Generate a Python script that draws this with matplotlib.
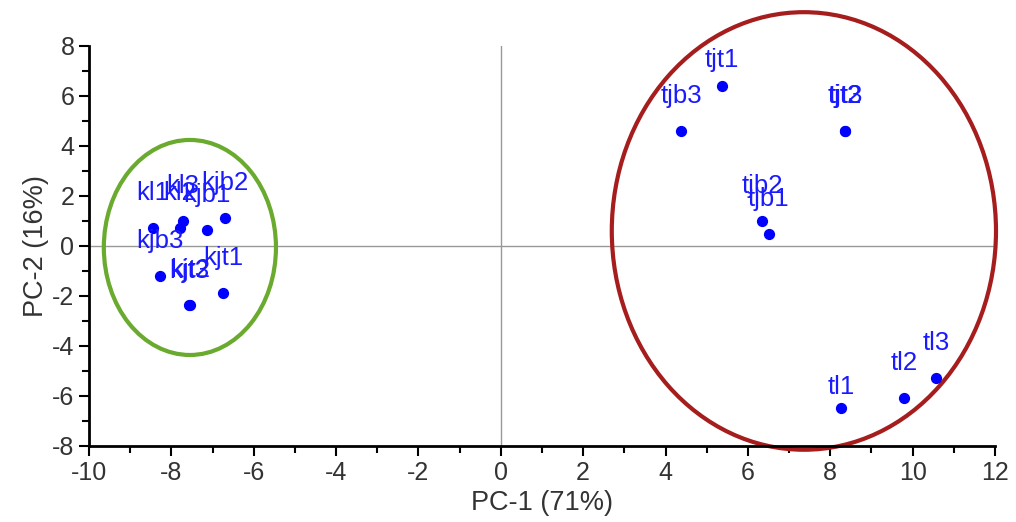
import numpy as np
import matplotlib
matplotlib.use("Agg")
import matplotlib.pyplot as plt
from matplotlib.patches import Ellipse
from matplotlib.ticker import MultipleLocator

plt.rcParams['font.family'] = ['Liberation Sans', 'DejaVu Sans']
plt.rcParams['axes.unicode_minus'] = False

# sample scores
names = ["kl1", "kl2", "kl3", "kjb1", "kjb2", "kjb3", "kjt1", "kjt2", "kjt3",
         "tl1", "tl2", "tl3", "tjb1", "tjb2", "tjb3", "tjt1", "tjt2", "tjt3"]
pc1 = [-8.45, -7.79, -7.72, -7.13, -6.70, -8.28, -6.75, -7.55, -7.56,
       8.26, 9.79, 10.57, 6.51, 6.34, 4.38, 5.37, 8.36, 8.37]
pc2 = [0.72, 0.72, 1.00, 0.64, 1.12, -1.20, -1.88, -2.36, -2.37,
       -6.48, -6.08, -5.28, 0.48, 1.00, 4.60, 6.40, 4.60, 4.61]

# confidence ellipses: centre x, centre y, width, height
groups = ["k", "t"]
ell_cx = [-7.55, 7.36]
ell_cy = [-0.06, 0.60]
ell_w = [4.18, 9.33]
ell_h = [8.60, 17.50]
ell_colors = ["#6aaa2e", "#a51d1d"]

# label offsets (points) where default doesn't fit
label_off = {"tl1": 15, "tjt1": 19}

fig = plt.figure(figsize=(10.16, 5.22), dpi=100)
ax = fig.add_axes([0.0876, 0.1456, 0.8917, 0.7664])

ax.axhline(0, color="#999999", lw=1, zorder=1)
ax.axvline(0, color="#999999", lw=1, zorder=1)

for cx, cy, w, h, col in zip(ell_cx, ell_cy, ell_w, ell_h, ell_colors):
    e = Ellipse((cx, cy), w, h, fill=False, edgecolor=col, lw=3,
                clip_on=False, zorder=2)
    ax.add_patch(e)

ax.scatter(pc1, pc2, s=50, color="#0000ff", zorder=3)
for n, x, y in zip(names, pc1, pc2):
    ax.annotate(n, (x, y), xytext=(0, label_off.get(n, 25)),
                textcoords="offset points", ha="center", va="center",
                color="#1a1aff", fontsize=18.5, zorder=4)

ax.set_xlim(-10, 12)
ax.set_ylim(-8, 8)
ax.xaxis.set_major_locator(MultipleLocator(2))
ax.xaxis.set_minor_locator(MultipleLocator(1))
ax.yaxis.set_major_locator(MultipleLocator(2))
ax.yaxis.set_minor_locator(MultipleLocator(1))
ax.tick_params(which="major", length=7, width=1.5, labelsize=18, colors="black")
ax.tick_params(which="minor", length=5, width=1.5)
for lbl in ax.get_xticklabels() + ax.get_yticklabels():
    lbl.set_color("#333333")

for s in ["top", "right"]:
    ax.spines[s].set_visible(False)
for s in ["left", "bottom"]:
    ax.spines[s].set_linewidth(2)

ax.set_xlabel("PC-1 (71%)", fontsize=19.5, color="#333333", labelpad=4)
ax.set_ylabel("PC-2 (16%)", fontsize=19.5, color="#333333", labelpad=2)

fig.savefig("out.png", dpi=100)
